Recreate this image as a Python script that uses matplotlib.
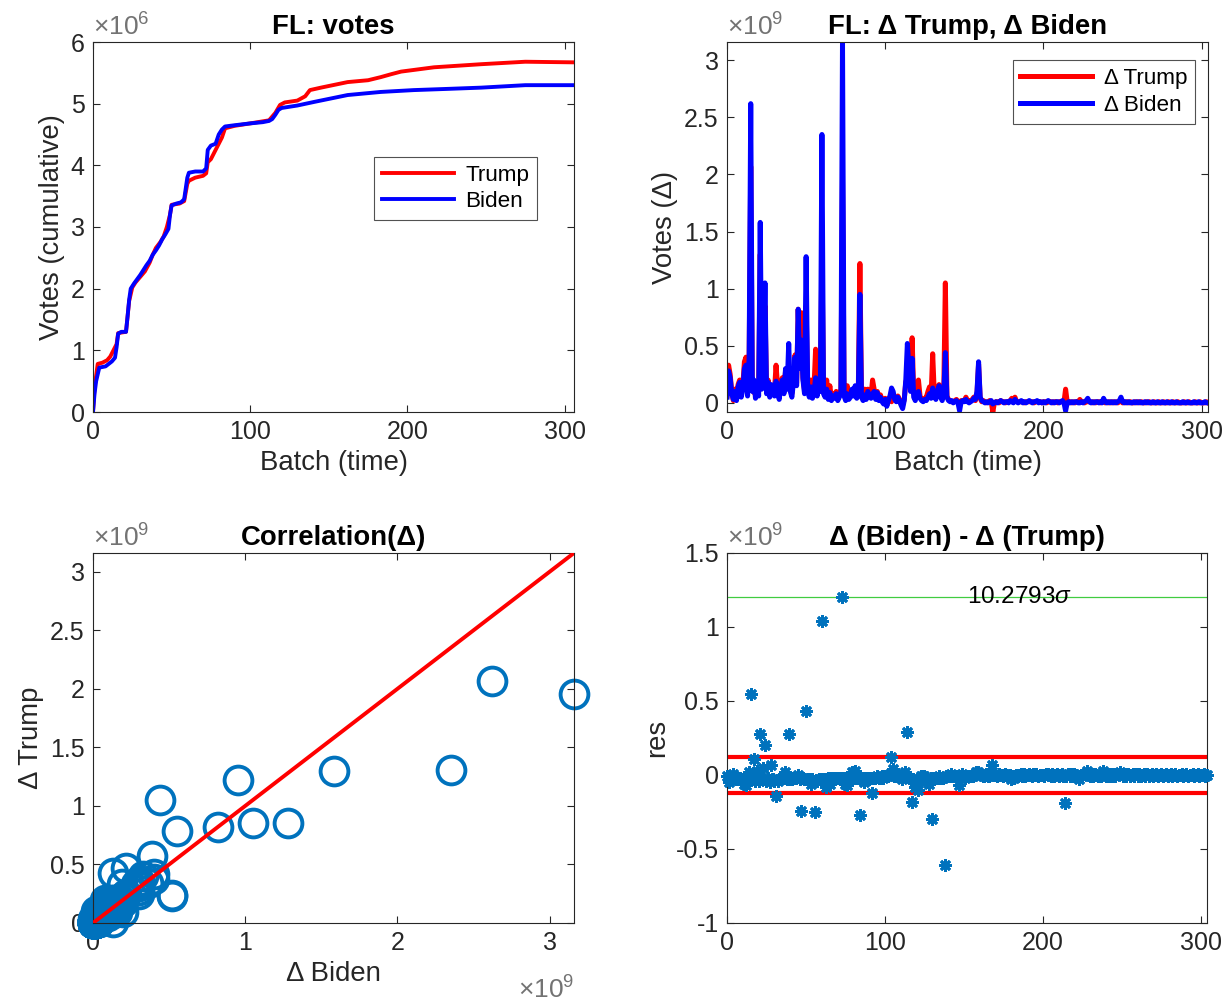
import numpy as np
import matplotlib
matplotlib.use("Agg")
import matplotlib.pyplot as plt
from matplotlib.ticker import FuncFormatter, MultipleLocator

plt.rcParams['font.family'] = ['Liberation Sans', 'DejaVu Sans']
plt.rcParams['mathtext.fontset'] = 'custom'
plt.rcParams['mathtext.rm'] = 'Liberation Sans'
plt.rcParams['mathtext.it'] = 'Liberation Sans:italic'

# ---------------- data ----------------
# cumulative votes (keypoints: batch, votes in millions)
cum_batch_biden = [0, 1, 2, 4, 8, 10, 12, 14, 15, 16, 18, 21, 22, 23, 24, 26, 28, 30, 32, 34, 36, 38,
                   40, 42, 44, 46, 48, 49, 50, 53, 56, 58, 60, 61, 65, 70, 72, 73, 75, 78, 80, 82, 84,
                   90, 100, 108, 112, 114, 116, 118, 120, 130, 141, 162, 183, 204, 226, 247, 275, 306]
cum_biden = [0, 0.30, 0.50, 0.72, 0.74, 0.78, 0.82, 0.88, 1.05, 1.27, 1.30, 1.30, 1.55, 1.82, 2.00,
             2.08, 2.15, 2.22, 2.30, 2.38, 2.45, 2.55, 2.62, 2.70, 2.80, 2.88, 2.97, 3.20, 3.35, 3.38,
             3.40, 3.45, 3.80, 3.88, 3.90, 3.90, 3.95, 4.25, 4.32, 4.35, 4.50, 4.58, 4.63, 4.65, 4.68,
             4.70, 4.72, 4.75, 4.82, 4.90, 4.93, 4.97, 5.03, 5.14, 5.19, 5.22, 5.24, 5.26, 5.30, 5.30]
cum_batch_trump = [0, 1, 3, 6, 9, 11, 13, 15, 16, 21, 22, 23, 25, 27, 30, 33, 36, 38, 40, 43, 45, 47,
                   49, 50, 55, 58, 60, 61, 65, 70, 72, 73, 75, 78, 80, 82, 84, 90, 100, 112, 116, 119,
                   122, 130, 135, 138, 145, 162, 175, 183, 190, 196, 205, 217, 247, 275, 306]
cum_trump = [0, 0.40, 0.78, 0.80, 0.84, 0.90, 1.00, 1.10, 1.28, 1.30, 1.55, 1.80, 2.02, 2.10, 2.19,
             2.28, 2.42, 2.55, 2.66, 2.76, 2.85, 3.00, 3.20, 3.36, 3.38, 3.42, 3.70, 3.75, 3.80, 3.83,
             3.87, 4.05, 4.10, 4.25, 4.35, 4.45, 4.60, 4.64, 4.68, 4.73, 4.85, 4.98, 5.02, 5.05, 5.12,
             5.22, 5.26, 5.35, 5.38, 5.43, 5.48, 5.52, 5.55, 5.59, 5.64, 5.68, 5.67]

# per-batch deltas (units of 1e9), batches 0..304
delta_biden = [
    0.05, 0.28, 0.22, 0.08, 0.03, 0.10, 0.02, 0.14, 0.18, 0.05, 0.12, 0.30, 0.33, 0.06, 0.40,
    2.62, 0.10, 0.20, 0.04, 0.15, 0.06, 1.58, 0.12, 0.30, 1.05, 0.08, 0.18, 0.05, 0.16, 0.12,
    0.06, 0.19, 0.10, 0.03, 0.15, 0.20, 0.08, 0.30, 0.12, 0.52, 0.10, 0.05, 0.18, 0.40, 0.15,
    0.82, 0.30, 0.55, 0.20, 0.08, 1.28, 0.12, 0.05, 0.14, 0.04, 0.10, 0.22, 0.06, 0.15, 0.10,
    2.35, 0.08, 0.05, 0.12, 0.03, 0.09, 0.02, 0.06, 0.04, 0.08, 0.02, 0.05, 0.10, 3.16, 0.06,
    0.02, 0.08, 0.03, 0.05, 0.12, 0.06, 0.15, 0.04, 0.10, 0.95, 0.05, 0.02, 0.07, 0.03, 0.10,
    0.06, 0.04, 0.08, 0.10, 0.03, 0.09, 0.02, 0.05, 0.01, -0.01, 0.03, -0.03, 0.02, 0.06, 0.13,
    0.10, 0.03, 0.01, 0.05, 0.02, -0.02, -0.05, 0.02, 0.20, 0.52, 0.30, 0.10, 0.39, 0.05, 0.02,
    0.08, 0.10, 0.04, 0.02, 0.01, 0.03, 0.02, 0.05, 0.08, 0.04, 0.13, 0.06, 0.03, 0.10, 0.15,
    0.05, 0.02, 0.08, 0.44, 0.05, 0.02, 0.01, 0.02, 0.00, 0.01, 0.02, 0.00, -0.07, 0.01, 0.02,
    0.01, 0.03, 0.01, 0.00, 0.01, 0.02, 0.04, 0.03, 0.10, 0.36, 0.05, 0.02, 0.01, 0.00, 0.01,
    0.00, 0.01, 0.02, -0.01, 0.00,
    0.01, 0.00, 0.01, 0.02, 0.01, 0.00, 0.01, 0.01, 0.00, 0.02, 0.01, 0.00, 0.03, 0.01, 0.00,
    0.01, 0.02, 0.00, 0.01, 0.00, 0.01, 0.02, 0.01, 0.00, 0.01, 0.01, 0.02, 0.00, 0.01, 0.00,
    0.01, 0.00, 0.01, 0.02, 0.01, 0.00, 0.01, 0.00, 0.01, 0.01, 0.00, 0.01, 0.02, 0.00, -0.07,
    0.00, 0.01, 0.00, 0.01, 0.00, 0.01, 0.01, 0.00, 0.00, 0.01, 0.00, 0.01, 0.02, 0.04, 0.01,
    0.00, 0.01, 0.00, 0.01, 0.01, 0.00, 0.01, 0.00, 0.04, 0.01, 0.00, 0.01, 0.00, 0.01, 0.00,
    0.01, 0.00, 0.01, 0.02, 0.05, 0.01, 0.00, 0.01, 0.00, 0.01, 0.00, 0.00, 0.01, 0.00, 0.01,
    0.00, 0.01, 0.00, 0.00, 0.01, 0.00, 0.01, 0.00, 0.00, 0.01, 0.00, 0.00, 0.01, 0.00, 0.00,
    0.01, 0.00, 0.00, 0.01, 0.00, 0.00, 0.01, 0.00, 0.00, 0.01, 0.00, 0.00, 0.00, 0.01, 0.00,
    0.00, 0.01, 0.00, 0.00, 0.00, 0.01, 0.00, 0.00, 0.01, 0.00, 0.00, 0.00, 0.01, 0.00, 0.00,
]
delta_trump = [
    0.06, 0.33, 0.25, 0.10, 0.02, 0.12, 0.05, 0.16, 0.20, 0.08, 0.15, 0.36, 0.40, 0.10, 0.38,
    2.07, 0.12, 0.09, 0.08, 0.12, 0.10, 1.30, 0.15, 0.25, 0.85, 0.12, 0.20, 0.10, 0.09, 0.15,
    0.10, 0.33, 0.14, 0.06, 0.18, 0.22, 0.10, 0.28, 0.15, 0.24, 0.13, 0.08, 0.20, 0.42, 0.17,
    0.82, 0.33, 0.79, 0.22, 0.11, 0.85, 0.15, 0.08, 0.20, 0.07, 0.14, 0.47, 0.10, 0.18, 0.13,
    1.31, 0.11, 0.08, 0.20, 0.05, 0.15, 0.04, 0.08, 0.06, 0.10, 0.04, 0.07, 0.12, 1.96, 0.08,
    0.08, 0.15, 0.05, 0.07, 0.10, 0.08, 0.12, 0.06, 0.12, 1.22, 0.08, 0.04, 0.12, 0.05, 0.12,
    0.09, 0.06, 0.20, 0.12, 0.05, 0.10, 0.04, 0.07, 0.02, 0.01, 0.04, -0.02, 0.03, 0.05, 0.01,
    0.06, 0.04, 0.02, 0.06, 0.03, -0.01, -0.02, 0.03, 0.18, 0.23, 0.32, 0.12, 0.57, 0.08, 0.10,
    0.15, 0.20, 0.06, 0.03, 0.02, 0.04, 0.05, 0.10, 0.14, 0.06, 0.43, 0.08, 0.05, 0.12, 0.16,
    0.07, 0.04, 0.10, 1.05, 0.06, 0.03, 0.02, 0.01, 0.01, 0.02, 0.03, 0.01, 0.00, 0.02, 0.01,
    0.02, 0.05, 0.02, 0.01, 0.02, 0.03, 0.05, 0.02, 0.08, 0.34, 0.04, 0.01, 0.02, 0.01, 0.00,
    0.01, 0.02, 0.01, -0.08, 0.00,
    0.01, 0.01, 0.00, 0.02, 0.01, 0.01, 0.00, 0.01, 0.01, 0.02, 0.04, 0.01, 0.05, 0.01, 0.01,
    0.01, 0.01, 0.01, 0.00, 0.01, 0.01, 0.01, 0.01, 0.01, 0.00, 0.01, 0.01, 0.01, 0.01, 0.00,
    0.01, 0.01, 0.00, 0.01, 0.01, 0.01, 0.00, 0.01, 0.01, 0.00, 0.01, 0.01, 0.01, 0.01, 0.12,
    0.01, 0.00, 0.01, 0.00, 0.01, 0.00, 0.01, 0.01, 0.03, 0.01, 0.01, 0.00, 0.01, 0.01, 0.01,
    0.01, 0.00, 0.01, 0.00, 0.01, 0.01, 0.00, 0.01, 0.01, 0.00, 0.01, 0.00, 0.01, 0.00, 0.01,
    0.00, 0.01, 0.00, 0.01, 0.03, 0.00, 0.01, 0.00, 0.01, 0.00, 0.01, 0.00, 0.00, 0.01, 0.00,
    0.01, 0.00, 0.01, 0.00, 0.00, 0.01, 0.00, 0.01, 0.00, 0.00, 0.01, 0.00, 0.00, 0.01, 0.00,
    0.00, 0.01, 0.00, 0.00, 0.01, 0.00, 0.00, 0.01, 0.00, 0.00, 0.01, 0.00, 0.00, 0.00, 0.01,
    0.00, 0.00, 0.01, 0.00, 0.00, 0.00, 0.01, 0.00, 0.00, 0.01, 0.00, 0.00, 0.00, 0.01, 0.00,
]
DELTA_SCALE = 1e9
CUM_SCALE = 1e6
SIGMA = 0.1183e9          # std of residual (red lines at +/- sigma)
SIGMA_TEXT = '10.2793'

# ---------------- derived ----------------
dB = np.array(delta_biden) * DELTA_SCALE
dT = np.array(delta_trump) * DELTA_SCALE
batch = np.arange(len(dB))
res = dB - dT

RED = (1, 0, 0)
BLUE = (0, 0, 1)
MBLUE = (0, 0.447, 0.741)
AX_COL = (0.15, 0.15, 0.15)
EXP_COL = (0.45, 0.45, 0.45)
TICK_FS = 18
LAB_FS = 19.8

fig = plt.figure(figsize=(12.3, 10.02), dpi=100)
W, H = 1230, 1002
def pos(l, t, r, b):
    return [l / W, (H - b) / H, (r - l) / W, (b - t) / H]

ax1 = fig.add_axes(pos(93, 42, 574, 412))
ax2 = fig.add_axes(pos(727, 42, 1208, 412))
ax3 = fig.add_axes(pos(93, 553, 574, 923))
ax4 = fig.add_axes(pos(727, 553, 1207, 923))

def style(ax):
    for s in ax.spines.values():
        s.set_color(AX_COL)
        s.set_linewidth(0.8)
    ax.tick_params(direction='in', length=5, width=0.8, colors=AX_COL,
                   labelsize=TICK_FS, top=True, right=True, pad=6)

def scaled(factor):
    return FuncFormatter(lambda v, p: '%g' % round(v / factor, 6))

def ylabel_exp(ax, e):
    ax.text(0.0, 1.005, r'$\times10^{%d}$' % e, transform=ax.transAxes, ha='left',
            va='bottom', fontsize=TICK_FS + 1, color=EXP_COL)

# ---- ax1 ----
style(ax1)
ax1.plot(np.array(cum_batch_trump), np.array(cum_trump) * CUM_SCALE, color=RED, lw=2.8, label='Trump')
ax1.plot(np.array(cum_batch_biden), np.array(cum_biden) * CUM_SCALE, color=BLUE, lw=2.8, label='Biden')
ax1.set_xlim(0, 306)
ax1.set_ylim(0, 6e6)
ax1.xaxis.set_major_locator(MultipleLocator(100))
ax1.yaxis.set_major_locator(MultipleLocator(1e6))
ax1.yaxis.set_major_formatter(scaled(1e6))
ylabel_exp(ax1, 6)
ax1.set_title('FL: votes', fontsize=LAB_FS, fontweight='bold', pad=6)
ax1.set_xlabel('Batch (time)', fontsize=LAB_FS, color=AX_COL)
ax1.set_ylabel('Votes (cumulative)', fontsize=LAB_FS, color=AX_COL)
leg = ax1.legend(loc='upper left', bbox_to_anchor=(0.584, 0.69), fontsize=16.2, frameon=True,
                 fancybox=False, edgecolor=AX_COL, handlelength=3.2, borderpad=0.35,
                 labelspacing=0.25, handletextpad=0.5, borderaxespad=0)
leg.get_frame().set_linewidth(0.8)

# ---- ax2 ----
style(ax2)
ax2.plot(batch, dT, color=RED, lw=3.6, label='Δ Trump')
ax2.plot(batch, dB, color=BLUE, lw=3.6, label='Δ Biden')
ax2.set_xlim(0, batch[-1])
ax2.set_ylim(min(dT.min(), dB.min()), max(dT.max(), dB.max()))
ax2.xaxis.set_major_locator(MultipleLocator(100))
ax2.yaxis.set_major_locator(MultipleLocator(0.5e9))
ax2.yaxis.set_major_formatter(scaled(1e9))
ylabel_exp(ax2, 9)
ax2.set_title('FL: Δ Trump, Δ Biden', fontsize=LAB_FS, fontweight='bold', pad=6)
ax2.set_xlabel('Batch (time)', fontsize=LAB_FS, color=AX_COL)
ax2.set_ylabel('Votes (Δ)', fontsize=LAB_FS, color=AX_COL)
leg2 = ax2.legend(loc='upper right', bbox_to_anchor=(0.973, 0.951), fontsize=16.2, frameon=True,
                  fancybox=False, edgecolor=AX_COL, handlelength=3.2, borderpad=0.35,
                  labelspacing=0.25, handletextpad=0.5, borderaxespad=0)
leg2.get_frame().set_linewidth(0.8)

# ---- ax3 ----
style(ax3)
m = dB.max()
inside = (dB >= 0) & (dT >= 0) & (dB <= m) & (dT <= m)
ax3.plot(dB[inside], dT[inside], 'o', ms=20, mfc='none', mec=MBLUE, mew=2.8, clip_on=False, zorder=2)
ax3.plot([0, m], [0, m], color=RED, lw=2.8, zorder=3)
ax3.set_xlim(0, m)
ax3.set_ylim(0, m)
ax3.xaxis.set_major_locator(MultipleLocator(1e9))
ax3.yaxis.set_major_locator(MultipleLocator(0.5e9))
ax3.xaxis.set_major_formatter(scaled(1e9))
ax3.yaxis.set_major_formatter(scaled(1e9))
ylabel_exp(ax3, 9)
ax3.text(1.0, -0.145, r'$\times10^{9}$', transform=ax3.transAxes, ha='right', va='top',
         fontsize=TICK_FS + 1, color=EXP_COL)
ax3.set_title('Correlation(Δ)', fontsize=LAB_FS, fontweight='bold', pad=6)
ax3.set_xlabel('Δ Biden', fontsize=LAB_FS, color=AX_COL)
ax3.set_ylabel('Δ Trump', fontsize=LAB_FS, color=AX_COL)

# ---- ax4 ----
style(ax4)
ax4.axhline(SIGMA, color=RED, lw=3, zorder=1)
ax4.axhline(-SIGMA, color=RED, lw=3, zorder=1)
ax4.axhline(res.max(), color=(0.25, 0.8, 0.25), lw=0.9, zorder=1)
ax4.plot(batch, res, linestyle='none', marker=(8, 2, 0), ms=9, mew=2.0, color=MBLUE,
         clip_on=False, zorder=3)
ax4.text(batch[-1] / 2, res.max(), SIGMA_TEXT + r'$\mathit{\sigma}$', ha='left', va='center',
         fontsize=17.5, color='black')
ax4.set_xlim(0, batch[-1])
ax4.set_ylim(-1e9, 1.5e9)
ax4.xaxis.set_major_locator(MultipleLocator(100))
ax4.yaxis.set_major_locator(MultipleLocator(0.5e9))
ax4.yaxis.set_major_formatter(scaled(1e9))
ylabel_exp(ax4, 9)
ax4.set_title('Δ (Biden) - Δ (Trump)', fontsize=LAB_FS, fontweight='bold', pad=6)
ax4.set_ylabel('res', fontsize=LAB_FS, color=AX_COL)

fig.savefig('out.png', dpi=100)
